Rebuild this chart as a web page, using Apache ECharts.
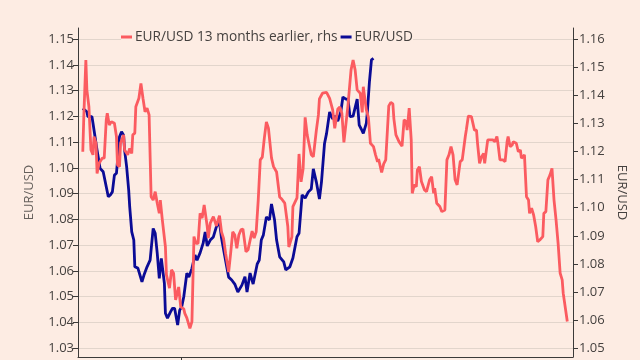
<!DOCTYPE html>
<html>
<head>
<meta charset="utf-8">
<script src="https://cdn.jsdelivr.net/npm/echarts@6/dist/echarts.min.js"></script>
<style>
html,body{margin:0;padding:0;background:#fdece3;}
#chart{width:640px;height:360px;}
</style>
</head>
<body>
<div id="chart"></div>
<script>
// x values: days relative to 2017-01-01 (tick on the x axis marks 1 Jan 2017)
const blueDays = [-97,-93,-92,-88,-87,-85,-83,-80,-77,-74,-72,-70,-68,-66,-64,-61,-59,-57,-56,-54,
  -52,-51,-49,-47,-46,-43,-39,-37,-34,-31,-28,-26,-24,-22,-20,-17,-16,-14,-11,-9,
  -7,-4,-2,0,2,5,7,10,13,15,18,21,23,25,28,31,34,37,39,42,
  46,49,52,55,59,62,64,67,70,74,76,78,80,83,86,88,91,93,96,100,
  102,106,109,113,115,118,121,124,127,129,132,135,137,140,142,145,148,150,153,156,
  158,161,163,165,168,172,174,176,178,181,182,184,186,188];
const blueValues = [1.1231,1.1218,1.1199,1.1199,1.1173,1.1121,1.1069,1.0998,1.0985,1.0927,1.0888,1.0895,1.0907,1.0972,1.0979,1.1121,1.1140,1.1127,1.1069,1.1004,
  1.0914,1.0849,1.0752,1.0720,1.0616,1.0611,1.0558,1.0584,1.0616,1.0642,1.0765,1.0746,1.0668,1.0571,1.0649,1.0552,1.0436,1.0417,1.0441,1.0455,
  1.0455,1.0390,1.0448,1.0461,1.0500,1.0591,1.0576,1.0610,1.0662,1.0642,1.0670,1.0708,1.0751,1.0697,1.0720,1.0732,1.0772,1.0790,1.0728,1.0662,
  1.0576,1.0565,1.0549,1.0518,1.0545,1.0578,1.0518,1.0592,1.0549,1.0627,1.0642,1.0720,1.0739,1.0809,1.0798,1.0860,1.0798,1.0720,1.0655,1.0635,
  1.0604,1.0616,1.0650,1.0733,1.0746,1.0895,1.0883,1.0906,1.0918,1.0996,1.0945,1.0879,1.0945,1.1095,1.1134,1.1217,1.1190,1.1201,1.1182,1.1218,
  1.1275,1.1267,1.1267,1.1199,1.1201,1.1267,1.1166,1.1151,1.1134,1.1174,1.1217,1.1333,1.1419,1.1425];

const redDays = [-97,-96,-94,-93,-91,-89,-87,-86,-84,-83,-81,-78,-76,-74,-73,-71,-69,-66,-64,-63,
  -61,-60,-57,-56,-53,-51,-49,-48,-46,-45,-42,-40,-38,-36,-34,-32,-30,-28,-26,-24,
  -22,-21,-19,-16,-15,-12,-10,-8,-6,-3,-1,2,3,5,8,10,12,14,16,18,
  20,22,25,26,28,31,34,37,39,41,43,46,48,50,52,54,56,58,60,63,
  65,69,71,73,75,77,79,81,83,85,88,90,93,96,98,101,104,105,108,109,
  113,115,117,119,121,123,124,127,129,132,134,135,138,142,145,148,150,153,155,157,
  159,161,163,166,168,170,172,175,177,178,181,183,185,188,190,192,193,196,198,200,
  203,205,207,208,210,213,216,218,220,221,223,225,226,228,230,231,233,235,238,240,
  243,245,247,248,250,253,255,258,260,262,264,266,268,270,273,275,278,279,281,284,
  287,289,290,292,294,296,297,300,302,305,307,309,310,312,315,317,319,320,322,324,
  325,328,330,332,333,336,338,340,341,343,345,347,349,351,354,355,357,359,361,363,
  365,367,369,371,373,374,378];
const redValues = [1.1199,1.1324,1.1525,1.1419,1.1359,1.1205,1.1188,1.1253,1.1229,1.1122,1.1158,1.1176,1.1176,1.1312,1.1336,1.1294,1.1306,1.1300,1.1253,1.1152,
  1.1146,1.1229,1.1259,1.1205,1.1188,1.1211,1.1193,1.1259,1.1265,1.1359,1.1389,1.1442,1.1389,1.1341,1.1354,1.1330,1.1039,1.1027,1.1057,1.1016,
  1.0980,1.1027,1.0956,1.0861,1.0761,1.0714,1.0779,1.0767,1.0672,1.0718,1.0647,1.0640,1.0624,1.0608,1.0571,1.0595,1.0897,1.0873,1.0873,1.0980,
  1.0963,1.1010,1.0933,1.0892,1.0945,1.0968,1.0935,1.0972,1.0914,1.0891,1.0838,1.0771,1.0839,1.0914,1.0903,1.0856,1.0903,1.0921,1.0924,1.0843,
  1.0850,1.0917,1.0892,1.0914,1.1027,1.1170,1.1180,1.1248,1.1305,1.1283,1.1177,1.1146,1.1127,1.1038,1.1031,1.1016,1.0933,1.0860,1.0896,1.1004,
  1.1035,1.1191,1.1092,1.1138,1.1321,1.1259,1.1241,1.1188,1.1181,1.1276,1.1330,1.1387,1.1407,1.1410,1.1389,1.1348,1.1282,1.1351,1.1358,1.1336,
  1.1232,1.1298,1.1365,1.1490,1.1525,1.1490,1.1419,1.1407,1.1339,1.1430,1.1348,1.1321,1.1229,1.1217,1.1188,1.1163,1.1173,1.1125,1.1156,1.1170,
  1.1362,1.1374,1.1369,1.1316,1.1259,1.1235,1.1219,1.1312,1.1306,1.1276,1.1354,1.1241,1.1051,1.1081,1.1075,1.1134,1.1146,1.1093,1.1063,1.1057,
  1.1099,1.1110,1.1051,1.1069,1.1016,1.1004,1.0986,1.0992,1.1170,1.1188,1.1217,1.1188,1.1099,1.1081,1.1164,1.1170,1.1253,1.1276,1.1326,1.1324,
  1.1276,1.1276,1.1229,1.1158,1.1181,1.1193,1.1158,1.1241,1.1241,1.1241,1.1235,1.1253,1.1229,1.1170,1.1170,1.1164,1.1235,1.1253,1.1217,1.1223,
  1.1235,1.1229,1.1199,1.1205,1.1176,1.1188,1.1039,1.1027,1.0980,1.0998,1.0974,1.0933,1.0879,1.0885,1.0897,1.0980,1.0986,1.1099,1.1116,1.1140,
  1.1027,1.0956,1.0873,1.0767,1.0743,1.0696,1.0595];

const leftTicks = [1.03,1.04,1.05,1.06,1.07,1.08,1.09,1.10,1.11,1.12,1.13,1.14,1.15];
const rightTicks = [1.05,1.06,1.07,1.08,1.09,1.10,1.11,1.12,1.13,1.14,1.15,1.16];
const xTicks = [0];

const blueName = 'EUR/USD';
const redName = 'EUR/USD 13 months earlier, rhs';

const blueData = blueDays.map((d, i) => [d, blueValues[i]]);
const redData = redDays.map((d, i) => [d, redValues[i]]);

const font = 'Open Sans';
const chart = echarts.init(document.getElementById('chart'), null, {renderer: 'canvas'});
chart.setOption({
  backgroundColor: '#fdece3',
  animation: false,
  textStyle: {fontFamily: font},
  grid: {left: 78, right: 67, top: 28, bottom: 3, containLabel: false},
  legend: {
    data: [redName, blueName],
    left: 121, top: 30,
    padding: 0,
    itemGap: 3,
    itemWidth: 11, itemHeight: 3,
    icon: 'rect',
    backgroundColor: '#fdece3',
    textStyle: {fontFamily: font, fontSize: 13.7, color: '#45413f', padding: [0, 0, 0, -2]}
  },
  xAxis: {
    type: 'value', min: -101.7, max: 383.6,
    axisLine: {show: true, onZero: false, lineStyle: {color: '#3c3a39', width: 1}},
    axisTick: {show: true, customValues: xTicks, length: 5, lineStyle: {color: '#3c3a39'}},
    axisLabel: {show: false},
    splitLine: {show: false}
  },
  yAxis: [
    {
      type: 'value', position: 'left', min: 1.0266, max: 1.1543,
      name: 'EUR/USD', nameLocation: 'middle', nameGap: 42, nameRotate: 90,
      nameTextStyle: {fontFamily: font, fontSize: 13, color: '#66605c'},
      axisLine: {show: true, onZero: false, lineStyle: {color: '#3c3a39', width: 1}},
      axisTick: {show: true, customValues: leftTicks, length: 5, lineStyle: {color: '#3c3a39'}},
      axisLabel: {customValues: leftTicks, margin: 4, fontSize: 13, color: '#45413f',
        formatter: v => v.toFixed(2)},
      splitLine: {show: true, lineStyle: {color: '#e2d5cc', width: 1}}
    },
    {
      type: 'value', position: 'right', min: 1.0469, max: 1.1639,
      name: 'EUR/USD', nameLocation: 'middle', nameGap: 39, nameRotate: -90,
      nameTextStyle: {fontFamily: font, fontSize: 13, color: '#45413f'},
      axisLine: {show: true, onZero: false, lineStyle: {color: '#3c3a39', width: 1}},
      axisTick: {show: true, customValues: rightTicks, length: 5, lineStyle: {color: '#3c3a39'}},
      axisLabel: {customValues: rightTicks, margin: 6, fontSize: 13, color: '#45413f',
        formatter: v => v.toFixed(2)},
      splitLine: {show: false}
    }
  ],
  series: [
    {
      name: blueName, type: 'line', yAxisIndex: 0, data: blueData,
      showSymbol: false, symbol: 'none',
      lineStyle: {color: '#0b0b96', width: 2.8}, itemStyle: {color: '#0b0b96'}, z: 2
    },
    {
      name: redName, type: 'line', yAxisIndex: 1, data: redData,
      showSymbol: false, symbol: 'none',
      lineStyle: {color: '#fb5b60', width: 2.8}, itemStyle: {color: '#fb5b60'}, z: 3
    }
  ]
});
</script>
</body>
</html>
